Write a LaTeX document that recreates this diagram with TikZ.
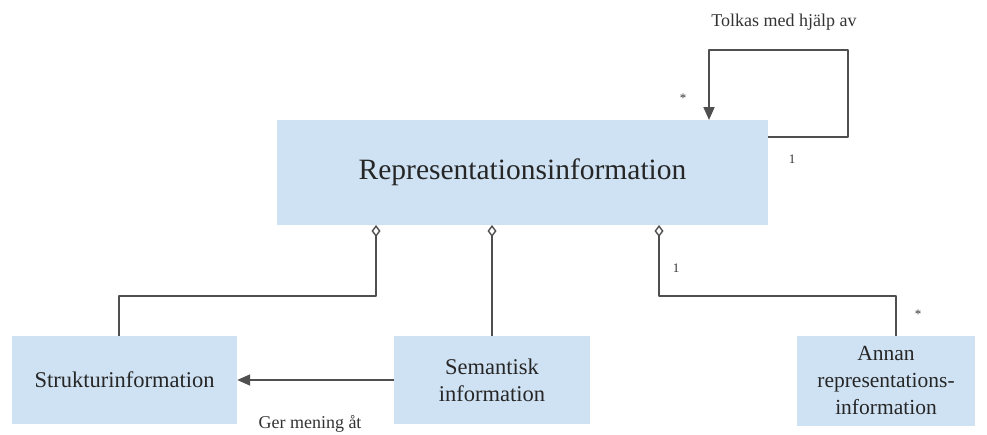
\documentclass[tikz,border=0pt]{standalone}
\usepackage{fontspec}
\setmainfont{Liberation Serif}
\usetikzlibrary{arrows.meta}
\definecolor{boxfill}{HTML}{CFE2F3}
\definecolor{linegray}{HTML}{4F4F4F}
\begin{document}
\begin{tikzpicture}[x=1pt,y=-1pt,
  classbox/.style={fill=boxfill,draw=none,inner sep=0pt,align=center,text=black!85},
  conn/.style={draw=linegray,line width=1.8pt,line join=round},
  agg/.style={conn,{Diamond[open,length=12pt,width=9pt,line width=1.4pt]}-},
  assoc/.style={conn,-{Triangle[length=13pt,width=11pt]}},
  lbl/.style={font=\fontsize{18}{20}\selectfont,text=black!80,inner sep=0pt},
  mult/.style={font=\fontsize{13}{15}\selectfont,text=black!80,inner sep=0pt}]
\useasboundingbox (0,0) rectangle (987,434);
% classes
\node[classbox,minimum width=491pt,minimum height=105pt,font=\fontsize{29.5}{33}\selectfont] (rep) at (522.5,172.5) {Representationsinformation};
\node[classbox,minimum width=225pt,minimum height=88pt,font=\fontsize{22.5}{26}\selectfont] (struk) at (124.5,380) {Strukturinformation};
\node[classbox,minimum width=196pt,minimum height=88pt,font=\fontsize{22.5}{27}\selectfont] (sem) at (492,380) {Semantisk\\information};
\node[classbox,minimum width=178pt,minimum height=90pt,font=\fontsize{21.5}{27}\selectfont] (annan) at (886,381) {Annan\\representations-\\information};
% aggregations
\coordinate (aggL) at (376,225);
\coordinate (aggM) at (492,225);
\coordinate (aggR) at (659,225);
\draw[agg] (aggL) -- (376,296) -- (119,296) -- (struk.north -| 119,0);
\draw[agg] (aggM) -- (sem.north);
\draw[agg] (aggR) -- (659,296) -- (896,296) -- (annan.north -| 896,0);
% association between semantic and structure information
\draw[assoc] (sem.west) -- (struk.east);
% self association
\coordinate (selfOut) at (768,137);
\coordinate (selfIn) at (709,120);
\draw[assoc] (selfOut) -- (848,137) -- (848,50) -- (709,50) -- (selfIn);
% labels
\node[lbl] (lTolk) at (784,22) {Tolkas med hjälp av};
\node[lbl] (lGer) at (310,424) {Ger mening åt};
\node[mult] (m1) at (792,159) {1};
\node[mult] (m2) at (683,98) {*};
\node[mult] (m3) at (676,268) {1};
\node[mult] (m4) at (918,314) {*};
\end{tikzpicture}
\end{document}
